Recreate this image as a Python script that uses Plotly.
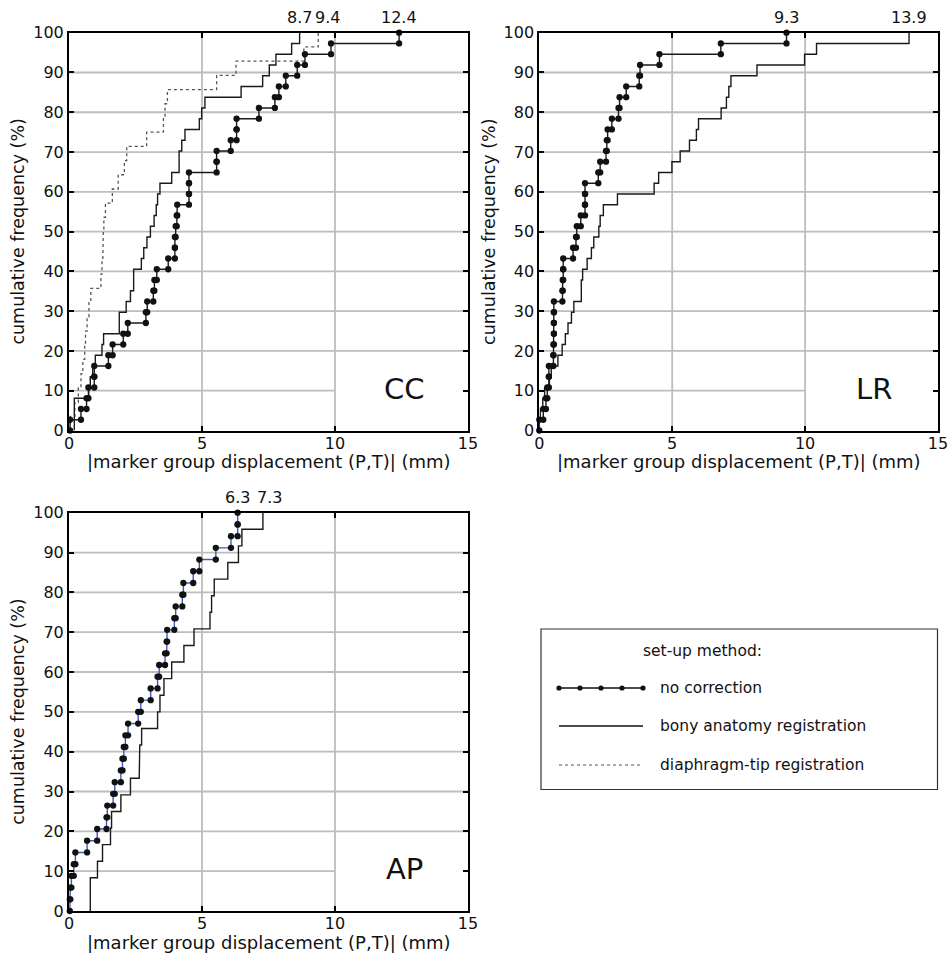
import plotly.graph_objects as go

# ---------------- data (sorted displacement values, mm) ----------------
cc_none = [0.04, 0.45, 0.66, 0.73, 0.95, 0.95, 1.48, 1.64, 2.04, 2.21, 2.89, 2.94,
           3.17, 3.21, 3.30, 3.73, 3.98, 3.98, 4.01, 4.05, 4.07, 4.51, 4.51, 4.51,
           5.55, 5.55, 6.08, 6.30, 6.30, 7.14, 7.74, 7.89, 8.15, 8.58, 8.87, 9.85, 12.41]
cc_bony = [0.20, 0.20, 0.20, 0.74, 0.80, 0.89, 0.99, 1.24, 1.30, 1.89, 1.89, 2.15,
           2.31, 2.43, 2.43, 2.72, 2.81, 2.93, 3.06, 3.20, 3.28, 3.33, 3.42, 3.86,
           4.14, 4.14, 4.24, 4.36, 4.90, 4.99, 5.11, 6.47, 7.28, 7.53, 7.78, 8.37, 8.67]
cc_diaph = [0.05, 0.22, 0.35, 0.45, 0.52, 0.59, 0.62, 0.68, 0.75, 0.82, 1.20, 1.24,
            1.27, 1.29, 1.31, 1.37, 1.63, 1.85, 2.08, 2.17, 2.92, 3.55, 3.61, 3.70,
            5.55, 6.28, 8.83, 9.37]

lr_none = [0.00, 0.15, 0.25, 0.30, 0.36, 0.36, 0.53, 0.53, 0.55, 0.55, 0.55, 0.55,
           0.87, 0.88, 0.90, 0.90, 1.27, 1.38, 1.41, 1.56, 1.72, 1.72, 1.72, 2.22,
           2.29, 2.51, 2.54, 2.57, 2.73, 2.98, 3.02, 3.27, 3.76, 3.79, 4.52, 6.83, 9.30]
lr_bony = [0.00, 0.04, 0.13, 0.20, 0.38, 0.45, 0.70, 0.86, 0.98, 1.08, 1.21, 1.30,
           1.58, 1.58, 1.63, 1.80, 1.96, 2.05, 2.24, 2.29, 2.41, 2.94, 4.32, 4.49,
           4.99, 5.30, 5.65, 5.91, 5.99, 6.84, 7.04, 7.13, 7.21, 8.19, 9.98, 10.43, 13.91]

ap_none = [0.03, 0.05, 0.09, 0.18, 0.24, 0.68, 1.06, 1.41, 1.44, 1.66, 1.72, 1.95,
           2.01, 2.06, 2.12, 2.22, 2.60, 2.70, 3.07, 3.33, 3.39, 3.61, 3.67, 3.69,
           3.96, 4.01, 4.26, 4.30, 4.67, 4.90, 5.52, 6.09, 6.34, 6.34]
ap_bony = [0.80, 0.80, 1.07, 1.26, 1.56, 1.60, 1.95, 2.31, 2.64, 2.66, 2.73, 3.33,
           3.42, 3.57, 3.86, 4.32, 4.70, 5.30, 5.36, 5.46, 5.97, 6.37, 6.50, 7.29]

x_ticks = [0, 5, 10, 15]
y_ticks = [0, 10, 20, 30, 40, 50, 60, 70, 80, 90, 100]
panel_names = ["CC", "LR", "AP"]
legend_title = "set-up method:"
legend_labels = ["no correction", "bony anatomy registration", "diaphragm-tip registration"]
x_title = "|marker group displacement (P,T)| (mm)"
y_title = "cumulative frequency (%)"

FONT = "DejaVu Sans"
W, H = 949, 960


def ecdf_steps(vals):
    v = sorted(vals)
    n = len(v)
    xs, ys = [], []
    for i, x in enumerate(v):
        xs += [x, x]
        ys += [100.0 * i / n, 100.0 * (i + 1) / n]
    return xs, ys


def px(x):
    return x / W


def py(y):
    return 1 - y / H


fig = go.Figure()

# panel definitions: (xaxis, yaxis, domain x px, domain y px, name, series)
# series: (values, kind, x-shift of max label in px)
panels = [
    ("x", "y", (69, 468), (32.7, 430.5), panel_names[0],
     [(cc_none, "none", 0), (cc_bony, "bony", 0), (cc_diaph, "diaph", 9)]),
    ("x2", "y2", (539.3, 938), (32.7, 430.5), panel_names[1],
     [(lr_none, "none", 0), (lr_bony, "bony", 0)]),
    ("x3", "y3", (69, 468), (512.7, 911), panel_names[2],
     [(ap_none, "none_blue", 0), (ap_bony, "bony", 7)]),
]

shapes = []
annotations = []
order = {"diaph": 0, "bony": 1, "none": 2, "none_blue": 2}

for xa, ya, (x0, x1), (ytop, ybot), name, series in panels:
    for vals, kind, lshift in sorted(series, key=lambda s: order[s[1]]):
        xs, ys = ecdf_steps(vals)
        if kind == "diaph":
            fig.add_trace(go.Scatter(x=xs, y=ys, xaxis=xa, yaxis=ya, mode="lines",
                                     line=dict(color="#555555", width=1.3, dash="dot"),
                                     showlegend=False, hoverinfo="skip"))
        elif kind == "bony":
            fig.add_trace(go.Scatter(x=xs, y=ys, xaxis=xa, yaxis=ya, mode="lines",
                                     line=dict(color="#1a1a1a", width=1.4),
                                     showlegend=False, hoverinfo="skip"))
        else:
            lc = "#3a5bbf" if kind == "none_blue" else "#1a1a1a"
            fig.add_trace(go.Scatter(x=xs, y=ys, xaxis=xa, yaxis=ya, mode="lines+markers",
                                     line=dict(color=lc, width=1.4),
                                     marker=dict(color="#111111", size=6.3),
                                     cliponaxis=False,
                                     showlegend=False, hoverinfo="skip"))
        # max value label above the frame
        annotations.append(dict(x=max(vals), y=100, xref=xa, yref=ya,
                                text=f"{max(vals):.1f}", showarrow=False,
                                xanchor="center", yanchor="bottom", yshift=4, xshift=lshift,
                                font=dict(family=FONT, size=16, color="#111")))

    # grid lines (as shapes below traces)
    for gx in x_ticks[1:-1]:
        shapes.append(dict(type="line", xref=xa, yref=ya, x0=gx, x1=gx, y0=0, y1=100,
                           line=dict(color="#bdbdbd", width=1.8), layer="below"))
    for gy in y_ticks[1:-1]:
        xend = 10 if gy == 10 else 15
        shapes.append(dict(type="line", xref=xa, yref=ya, x0=0, x1=xend, y0=gy, y1=gy,
                           line=dict(color="#bdbdbd", width=1.8), layer="below"))

    # panel name
    annotations.append(dict(x=12.6, y=10.5, xref=xa, yref=ya, text=name, showarrow=False,
                            font=dict(family=FONT, size=29, color="#111"),
                            xanchor="center", yanchor="middle"))
    # axis titles
    annotations.append(dict(x=px((x0 + x1) / 2), y=py(ybot + 31), xref="paper", yref="paper",
                            text=x_title, showarrow=False, xanchor="center", yanchor="middle",
                            font=dict(family=FONT, size=18, color="#111")))
    annotations.append(dict(x=px(x0 - 51), y=py((ytop + ybot) / 2), xref="paper", yref="paper",
                            text=y_title, showarrow=False, textangle=-90,
                            xanchor="center", yanchor="middle",
                            font=dict(family=FONT, size=17.5, color="#111")))

    axis_common = dict(showgrid=False, zeroline=False, showline=True, linecolor="black",
                       linewidth=2, mirror="ticks", ticks="inside", ticklen=5, tickwidth=1.5,
                       tickcolor="black", automargin=False,
                       tickfont=dict(family=FONT, size=16, color="#111"))
    xkey = "xaxis" if xa == "x" else "xaxis" + xa[1:]
    ykey = "yaxis" if ya == "y" else "yaxis" + ya[1:]
    fig.layout[xkey] = dict(domain=[px(x0), px(x1)], range=[0, 15], tickvals=x_ticks,
                            anchor=ya, ticklabelstandoff=-3, **axis_common)
    fig.layout[ykey] = dict(domain=[py(ybot), py(ytop)], range=[0, 100], tickvals=y_ticks,
                            anchor=xa, **axis_common)

# ---------------- legend (drawn manually) ----------------
LB = dict(x0=541, x1=937.5, y0=629, y1=789.5)
shapes.append(dict(type="rect", xref="paper", yref="paper", x0=px(LB["x0"]), x1=px(LB["x1"]),
                   y0=py(LB["y1"]), y1=py(LB["y0"]), line=dict(color="#333", width=1.2),
                   fillcolor="white", layer="above"))
annotations.append(dict(x=px(702), y=py(651), xref="paper", yref="paper", text=legend_title,
                        showarrow=False, xanchor="center", yanchor="middle",
                        font=dict(family=FONT, size=15.5, color="#111")))
rows_y = [688, 726, 765]
styles = [dict(color="#111", width=1.3), dict(color="#111", width=1.3),
          dict(color="#555", width=1.2, dash="dot")]
for ry, lab, st in zip(rows_y, legend_labels, styles):
    shapes.append(dict(type="line", xref="paper", yref="paper", x0=px(559), x1=px(643),
                       y0=py(ry), y1=py(ry), line=st, layer="above"))
    annotations.append(dict(x=px(658), y=py(ry), xref="paper", yref="paper", text=lab,
                            showarrow=False, xanchor="left", yanchor="middle",
                            font=dict(family=FONT, size=15.5, color="#111")))
for dx in [559, 580, 601, 622, 643]:
    r = 2.6
    shapes.append(dict(type="circle", xref="paper", yref="paper",
                       x0=px(dx - r), x1=px(dx + r), y0=py(rows_y[0] + r), y1=py(rows_y[0] - r),
                       fillcolor="#111", line=dict(color="#111", width=0), layer="above"))

fig.update_layout(width=W, height=H,
                  margin=dict(l=0, r=0, t=0, b=0, pad=0, autoexpand=False),
                  paper_bgcolor="white", plot_bgcolor="white",
                  shapes=shapes, annotations=annotations,
                  font=dict(family=FONT, color="#111"), showlegend=False)

fig.write_html("out.html",
               post_script="document.body.style.margin='0';"
                           "document.body.style.overflow='hidden';")
